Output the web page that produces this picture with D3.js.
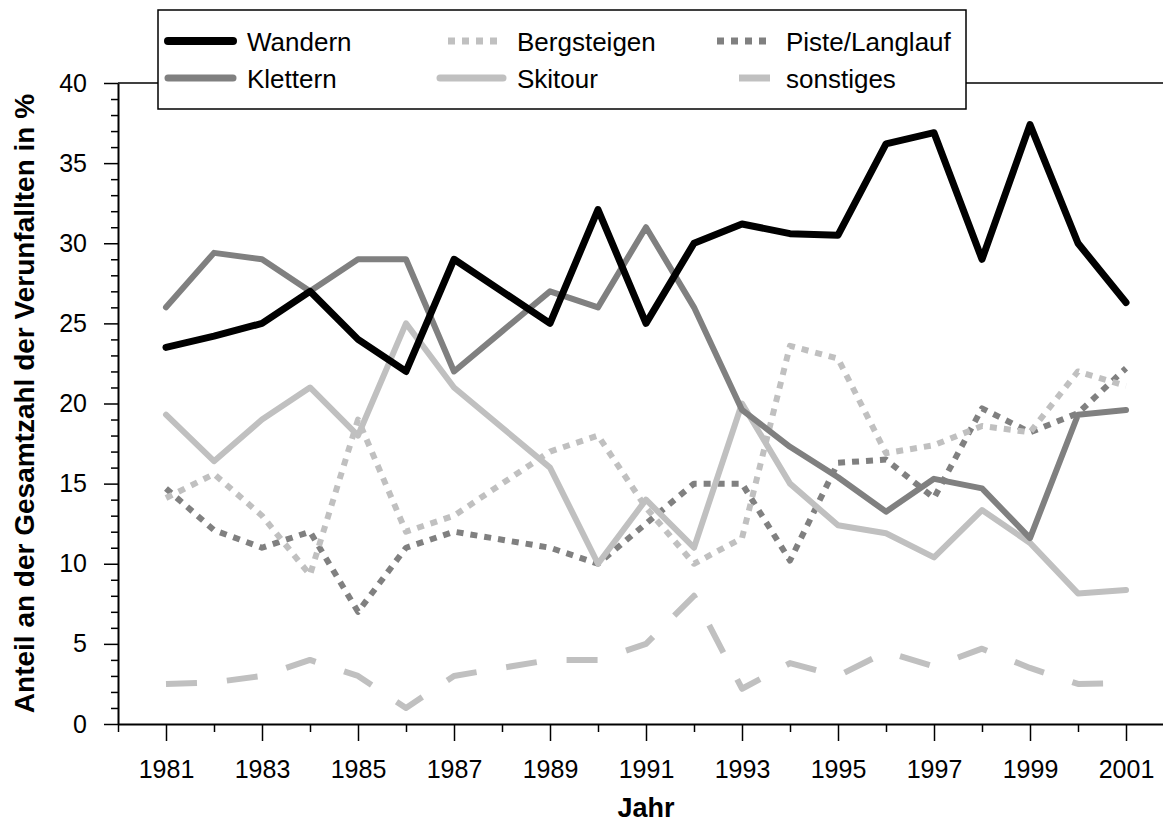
<!DOCTYPE html>
<html>
<head>
<meta charset="utf-8">
<script src="https://cdn.jsdelivr.net/npm/d3@7/dist/d3.min.js"></script>
<style>
  html, body { margin: 0; padding: 0; background: #fff; }
  svg { display: block; font-family: "Liberation Sans", Arial, sans-serif; }
</style>
</head>
<body>
<svg id="chart" width="1163" height="825"></svg>
<script>
const years = [1981,1982,1983,1984,1985,1986,1987,1988,1989,1990,1991,1992,1993,1994,1995,1996,1997,1998,1999,2000,2001];
const wandern     = [23.5,24.2,25,27,24,22,29,27,25,32.1,25,30,31.2,30.6,30.5,36.2,36.9,29,37.4,30,26.3];
const klettern    = [26,29.4,29,27,29,29,22,24.5,27,26,31,26,19.6,17.3,15.4,13.25,15.3,14.7,11.6,19.3,19.6];
const bergsteigen = [14.1,15.6,13,9.3,19,12,13,15,17,18,13.5,10,11.6,23.6,22.8,16.9,17.4,18.6,18.2,22,21.1];
const skitour     = [19.3,16.4,19,21,18,25,21,18.5,16,10,14,11,20,15,12.4,11.9,10.4,13.35,11.3,8.15,8.36];
const piste       = [14.7,12.1,11,12,7,11,12,11.5,11,10,12.5,15,15,10.2,16.3,16.5,14.1,19.7,18.2,19.4,22.2];
const sonstiges   = [2.5,2.6,3,4,3,1,3,3.5,4,4,5,8,2.2,3.8,3,4.5,3.6,4.7,3.5,2.5,2.55];

const yMajorTicks = [0,5,10,15,20,25,30,35,40];
const xLabelYears = [1981,1983,1985,1987,1989,1991,1993,1995,1997,1999,2001];
const yTitle = "Anteil an der Gesamtzahl der Verunfallten in %";
const xTitle = "Jahr";

const seriesNames = ["Wandern","Klettern","Bergsteigen","Skitour","Piste/Langlauf","sonstiges"];

const styles = {
  "Wandern":        {color:"#000000", width:7, dash:null, cap:"round"},
  "Klettern":       {color:"#808080", width:6, dash:null, cap:"round"},
  "Bergsteigen":    {color:"#c0c0c0", width:6, dash:"7,7", cap:"butt"},
  "Skitour":        {color:"#c0c0c0", width:6, dash:null, cap:"round"},
  "Piste/Langlauf": {color:"#808080", width:6, dash:"7,7", cap:"butt"},
  "sonstiges":      {color:"#c0c0c0", width:6, dash:"31,30", cap:"butt"}
};
const dataMap = {
  "Wandern": wandern, "Klettern": klettern, "Bergsteigen": bergsteigen,
  "Skitour": skitour, "Piste/Langlauf": piste, "sonstiges": sonstiges
};

const svg = d3.select("#chart");
const x = d3.scaleLinear().domain([1980, 2002]).range([118, 1174]);
const y = d3.scaleLinear().domain([0, 40]).range([724, 83]);

// top border
svg.append("line").attr("x1", x(1980)).attr("x2", x(2002)).attr("y1", y(40)).attr("y2", y(40))
  .attr("stroke", "#000").attr("stroke-width", 1.5);

// Y axis minor
const yMinor = d3.range(0, 41).filter(v => v % 5 !== 0);
svg.append("g").attr("transform", `translate(${x(1980)},0)`)
  .call(d3.axisLeft(y).tickValues(yMinor).tickSize(7).tickSizeOuter(0).tickFormat(""))
  .call(g => g.select(".domain").remove())
  .call(g => g.selectAll("line").attr("stroke-width", 1.5));
// Y axis major
svg.append("g").attr("transform", `translate(${x(1980)},0)`)
  .call(d3.axisLeft(y).tickValues(yMajorTicks).tickSize(14).tickSizeOuter(0).tickPadding(17).tickFormat(d3.format("d")))
  .call(g => g.select(".domain").attr("stroke-width", 2))
  .call(g => g.selectAll("line").attr("stroke-width", 1.5))
  .call(g => g.selectAll("text").attr("font-size", 25).attr("fill", "#000")
          .attr("font-family", "'Liberation Sans', Arial, sans-serif"));

// X axis minor
const xMinor = d3.range(1980, 2002).filter(v => v % 2 === 0);
svg.append("g").attr("transform", `translate(0,${y(0)})`)
  .call(d3.axisBottom(x).tickValues(xMinor).tickSize(8).tickSizeOuter(0).tickFormat(""))
  .call(g => g.select(".domain").remove())
  .call(g => g.selectAll("line").attr("stroke-width", 1.5));
// X axis major
svg.append("g").attr("transform", `translate(0,${y(0)})`)
  .call(d3.axisBottom(x).tickValues(xLabelYears).tickSize(17).tickSizeOuter(0).tickPadding(19).tickFormat(d3.format("d")))
  .call(g => g.select(".domain").attr("stroke-width", 2))
  .call(g => g.selectAll("line").attr("stroke-width", 1.5))
  .call(g => g.selectAll("text").attr("font-size", 25).attr("fill", "#000")
          .attr("font-family", "'Liberation Sans', Arial, sans-serif"));

// Lines
const drawOrder = ["sonstiges","Piste/Langlauf","Bergsteigen","Skitour","Klettern","Wandern"];
const line = d3.line().x(d => x(d[0])).y(d => y(d[1]));
drawOrder.forEach(name => {
  const st = styles[name];
  const pts = years.map((yr, i) => [yr, dataMap[name][i]]);
  svg.append("path").datum(pts)
    .attr("d", line)
    .attr("fill", "none")
    .attr("stroke", st.color)
    .attr("stroke-width", st.width)
    .attr("stroke-linejoin", "round")
    .attr("stroke-linecap", st.cap)
    .attr("stroke-dasharray", st.dash);
});

// Legend
const lg = svg.append("g");
lg.append("rect").attr("x", 158).attr("y", 10).attr("width", 808).attr("height", 99)
  .attr("fill", "#fff").attr("stroke", "#000").attr("stroke-width", 1.5);
const legendPos = {
  "Wandern":        {x1:168, x2:233, tx:247, cy:41},
  "Klettern":       {x1:168, x2:233, tx:247, cy:78},
  "Bergsteigen":    {x1:448, x2:503, tx:517, cy:41},
  "Skitour":        {x1:440, x2:503, tx:517, cy:78},
  "Piste/Langlauf": {x1:717, x2:769, tx:786, cy:41},
  "sonstiges":      {x1:739, x2:770, tx:786, cy:78}
};
seriesNames.forEach(name => {
  const st = styles[name], p = legendPos[name];
  lg.append("line").attr("x1", p.x1).attr("x2", p.x2).attr("y1", p.cy).attr("y2", p.cy)
    .attr("stroke", st.color).attr("stroke-width", st.width + 1)
    .attr("stroke-linecap", st.cap)
    .attr("stroke-dasharray", name === "sonstiges" ? null : st.dash);
  lg.append("text").attr("x", p.tx).attr("y", p.cy + 9.5)
    .attr("font-size", 26).attr("fill", "#000").text(name);
});

// Axis titles
svg.append("text")
  .attr("transform", `translate(34,${(y(0) + y(40)) / 2}) rotate(-90)`)
  .attr("text-anchor", "middle").attr("font-size", 28).attr("font-weight", "bold")
  .attr("fill", "#000").text(yTitle);
svg.append("text")
  .attr("x", (x(1980) + x(2002)) / 2).attr("y", 817)
  .attr("text-anchor", "middle").attr("font-size", 27).attr("font-weight", "bold")
  .attr("fill", "#000").text(xTitle);
</script>
</body>
</html>
